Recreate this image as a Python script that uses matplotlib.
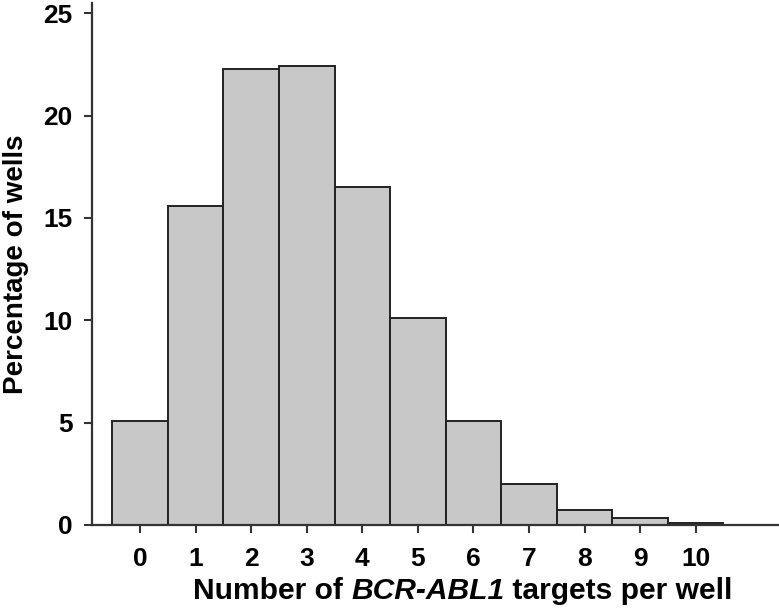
import matplotlib
matplotlib.use("Agg")
import matplotlib.pyplot as plt

categories = [0, 1, 2, 3, 4, 5, 6, 7, 8, 9, 10]
percentages = [5.1, 15.6, 22.3, 22.4, 16.5, 10.1, 5.1, 2.0, 0.75, 0.33, 0.12]
y_ticks = [0, 5, 10, 15, 20, 25]
xlabel_parts = ['Number of ', 'BCR-ABL1', ' targets per well']

plt.rcParams['font.family'] = ['Liberation Sans', 'DejaVu Sans']
plt.rcParams['font.weight'] = 'bold'

fig = plt.figure(figsize=(7.79, 6.08), dpi=100)
ax = fig.add_axes([92/779, (608-525)/608, 1 - 92/779, (525-3)/608])

ax.bar(categories, percentages, width=1.0, color='#c8c8c8',
       edgecolor='#222222', linewidth=1.4)

ax.set_xlim(-0.865, 11.5)
ax.set_ylim(0, 25.5)
ax.set_xticks(categories)
ax.set_xticklabels([str(c) for c in categories])
ax.set_yticks(y_ticks)

for s in ['top', 'right']:
    ax.spines[s].set_visible(False)
for s in ['left', 'bottom']:
    ax.spines[s].set_color('#333333')
    ax.spines[s].set_linewidth(1.6)

ax.tick_params(axis='both', direction='out', length=6, width=1.5,
               color='#333333', labelsize=19)
ax.tick_params(axis='y', pad=8)
ax.tick_params(axis='x', pad=10)

for lbl in ax.get_xticklabels() + ax.get_yticklabels():
    lbl.set_fontweight('bold')

xs = 21.6
t1 = fig.text(193/779, (608-599)/608, xlabel_parts[0], fontsize=xs,
              fontweight='bold', ha='left', va='baseline')
t2 = ax.annotate(xlabel_parts[1], xy=(1, 0), xycoords=t1, fontsize=xs,
                 fontweight='bold', style='italic', ha='left', va='bottom',
                 annotation_clip=False)
t3 = ax.annotate(xlabel_parts[2], xy=(1, 0), xycoords=t2, fontsize=xs,
                 fontweight='bold', ha='left', va='bottom',
                 annotation_clip=False)

ax.set_ylabel('Percentage of wells', fontsize=20, fontweight='bold', labelpad=10)

fig.savefig('out.png', dpi=100)
